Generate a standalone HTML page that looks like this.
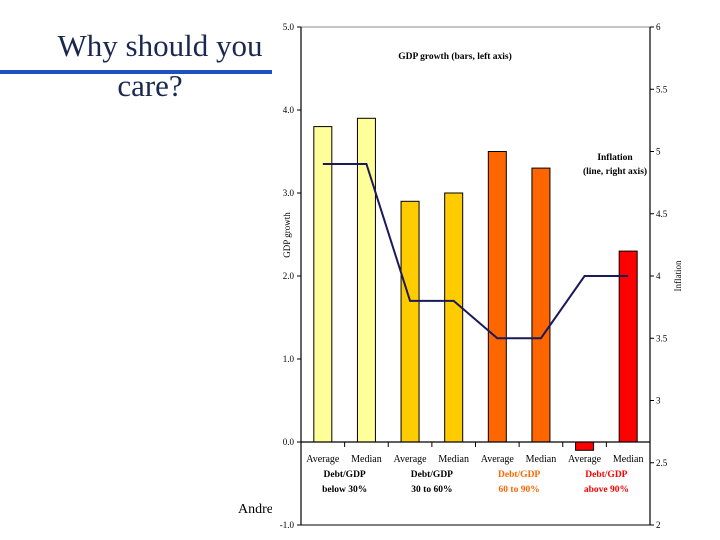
<!DOCTYPE html>
<html><head><meta charset="utf-8"><style>
body{margin:0;width:720px;height:540px;background:#fff;overflow:hidden;position:relative;font-family:"Liberation Serif",serif}
.t{position:absolute;color:#1a2850;font-size:31px;text-align:center;width:280px;left:18px}
</style></head><body>
<div class="t" style="top:28px;left:20px">Why should you</div>
<div style="position:absolute;left:0;top:70px;width:272px;height:4px;background:#1f4fc0"></div>
<div class="t" style="top:68px;left:10px">care?</div>
<div style="position:absolute;left:238px;top:502px;font-size:14px">Andre</div>
<svg id="c" style="position:absolute;left:0;top:0" width="720" height="540" font-family="Liberation Serif, serif"></svg>
<script>
const categories=["Average","Median","Average","Median","Average","Median","Average","Median"];
const gdpGrowth=[3.8,3.9,2.9,3.0,3.5,3.3,-0.1,2.3];
const inflation=[4.9,4.9,3.8,3.8,3.5,3.5,4.0,4.0];
const groupLabels=[["Debt/GDP","below 30%"],["Debt/GDP","30 to 60%"],["Debt/GDP","60 to 90%"],["Debt/GDP","above 90%"]];
const groupColors=["#ffff99","#ffcc00","#ff6600","#ff0000"];
const groupText=["#000","#000","#ff6600","#ff0000"];
const leftTicks=[5,4,3,2,1,0,-1];
const leftTickLabels=["5.0","4.0","3.0","2.0","1.0","0.0","-1.0"];
const rightTicks=[6,5.5,5,4.5,4,3.5,3,2.5,2];
const rightTickLabels=["6","5.5","5","4.5","4","3.5","3","2.5","2"];
const svg=document.getElementById('c');const NS='http://www.w3.org/2000/svg';
const X0=301,X1=650,Y0=27,Y1=525;
const yL=v=>Y0+(5-v)*(Y1-Y0)/6, yR=v=>Y0+(6-v)*(Y1-Y0)/4;
const bw=(X1-X0)/categories.length, xc=i=>X0+bw*(i+0.5);
function el(t,a,txt){const e=document.createElementNS(NS,t);for(const k in a)e.setAttribute(k,a[k]);if(txt!=null)e.textContent=txt;svg.appendChild(e);return e;}
let e=el('rect',{x:272,y:15,width:448,height:525,fill:'#fff'});

e=el('line',{x1:X0,y1:Y0,x2:X1,y2:Y0,stroke:'#888','stroke-width':1});

e=el('line',{x1:X0,y1:Y1,x2:X1,y2:Y1,stroke:'#000','stroke-width':1});

e=el('line',{x1:X0,y1:Y0,x2:X0,y2:Y1,stroke:'#000','stroke-width':1.2});

e=el('line',{x1:X1,y1:Y0,x2:X1,y2:Y1,stroke:'#000','stroke-width':1.2});

leftTicks.forEach((v,i)=>{const y=yL(v);
 e=el('line',{x1:X0-4,y1:y,x2:X0,y2:y,stroke:'#000'});
 e=el('text',{x:X0-7,y:y+3,'font-size':9,'text-anchor':'end'},leftTickLabels[i]);});
rightTicks.forEach((v,i)=>{const y=yR(v);
 e=el('line',{x1:X1,y1:y,x2:X1+4,y2:y,stroke:'#000'});
 e=el('text',{x:X1+6,y:y+3,'font-size':9},rightTickLabels[i]);});
const z=yL(0);
gdpGrowth.forEach((v,i)=>{const y=yL(v);
 e=el('rect',{x:xc(i)-9,y:Math.min(y,z),width:18,height:Math.abs(z-y),fill:groupColors[Math.floor(i/2)],stroke:'#000','stroke-width':1});
 });
e=el('line',{x1:X0,y1:z,x2:X1,y2:z,stroke:'#000','stroke-width':1.2});
for(let i=0;i<=categories.length;i++){e=el('line',{x1:X0+bw*i,y1:z,x2:X0+bw*i,y2:z+5,stroke:'#000'});}
categories.forEach((c,i)=>{e=el('text',{x:xc(i),y:z+20,'font-size':10,'text-anchor':'middle'},c);});
groupLabels.forEach((g,j)=>{const x=X0+bw*(2*j+1);
 g.forEach((s,k)=>{e=el('text',{x:x,y:z+35+k*15,'font-size':9.5,'font-weight':'bold','text-anchor':'middle',fill:groupText[j]},s);});});
e=el('polyline',{points:inflation.map((v,i)=>xc(i)+','+yR(v)).join(' '),fill:'none',stroke:'#1a1a5a','stroke-width':2});

e=el('text',{x:455,y:59,'font-size':9.5,'font-weight':'bold','text-anchor':'middle'},'GDP growth (bars, left axis)');
e=el('text',{x:615,y:160,'font-size':9.5,'font-weight':'bold','text-anchor':'middle'},'Inflation');
e=el('text',{x:615,y:174,'font-size':9.5,'font-weight':'bold','text-anchor':'middle'},'(line, right axis)');
e=el('text',{x:0,y:0,'font-size':9,'text-anchor':'middle',transform:'translate(290,235) rotate(-90)'},'GDP growth');
e=el('text',{x:0,y:0,'font-size':9,'text-anchor':'middle',transform:'translate(681,276) rotate(-90)'},'Inflation');
</script>
</body></html>
